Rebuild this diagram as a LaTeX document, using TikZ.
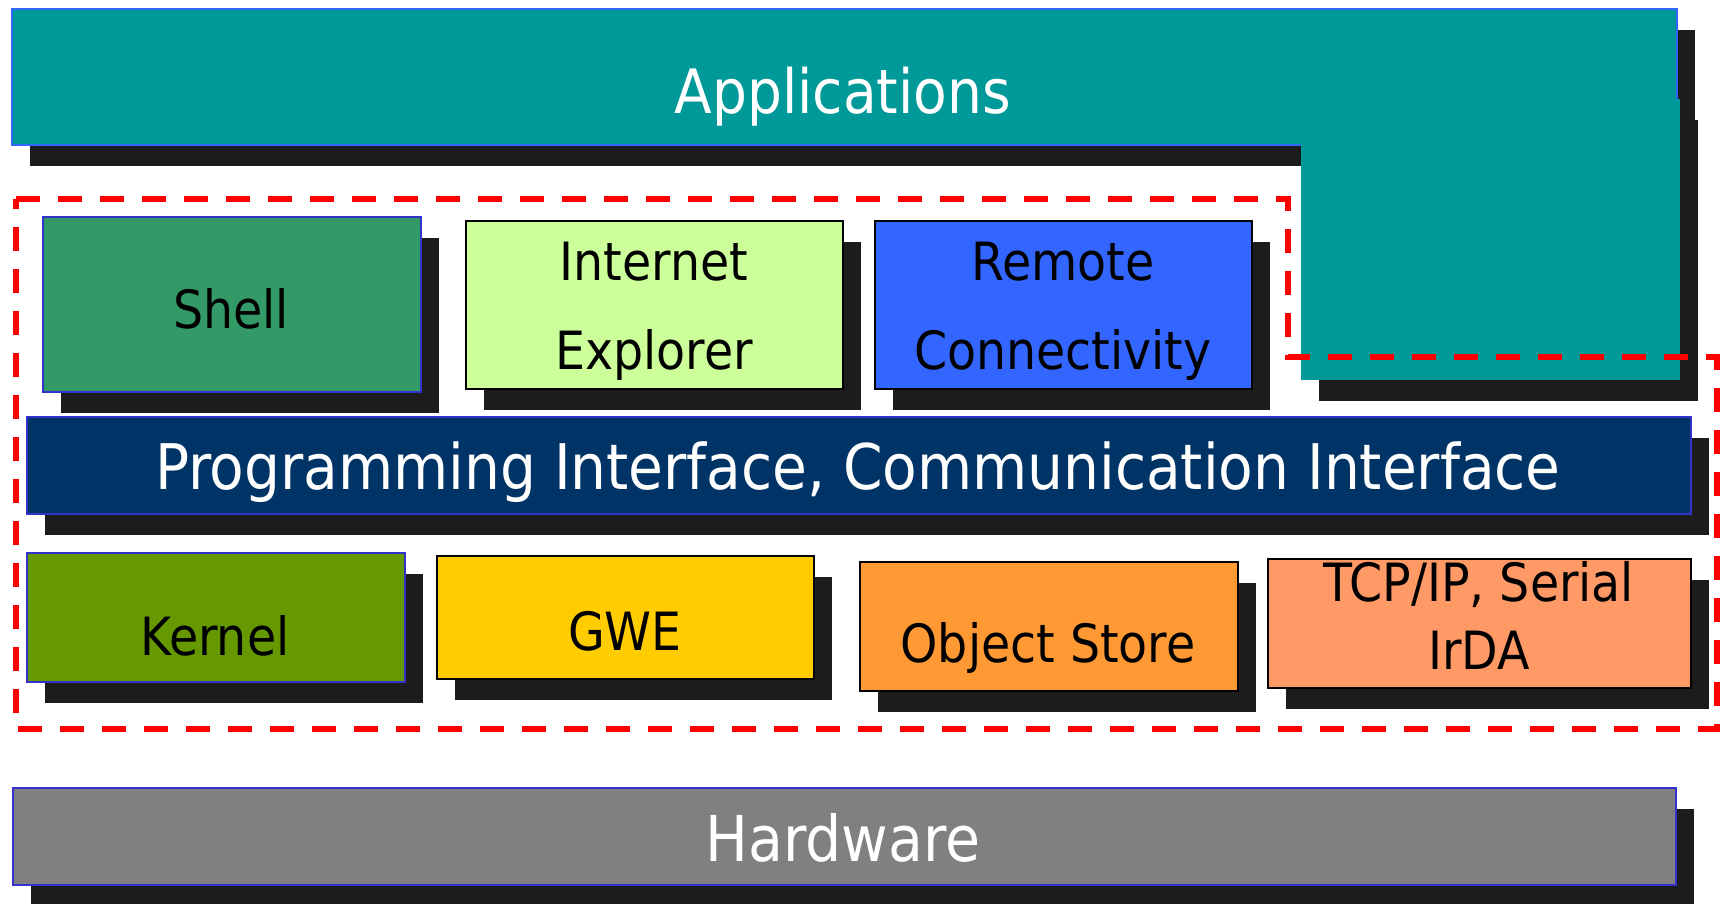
\documentclass[tikz,border=0pt]{standalone}
\usepackage{fontspec}
\setmainfont{DejaVu Sans Condensed}
\usepackage{tikz}
\usetikzlibrary{shadows}

\definecolor{appteal}{HTML}{009999}
\definecolor{appblue}{HTML}{3366FF}
\definecolor{edgeblue}{HTML}{3333CC}
\definecolor{shellgreen}{HTML}{339966}
\definecolor{iegreen}{HTML}{CCFF99}
\definecolor{remoteblue}{HTML}{3366FF}
\definecolor{apinavy}{HTML}{003366}
\definecolor{kernelgreen}{HTML}{669900}
\definecolor{gweyellow}{HTML}{FFCC00}
\definecolor{storeorange}{HTML}{FF9933}
\definecolor{tcpsalmon}{HTML}{FF9966}
\definecolor{hwgray}{HTML}{808080}
\definecolor{shadowgray}{HTML}{1C1C1C}

\begin{document}
\begin{tikzpicture}[
		layer/.style={rectangle, inner sep=0pt, anchor=north west, line width=0.6pt,
			drop shadow={shadow xshift=0.18cm, shadow yshift=-0.21cm, fill=shadowgray, opacity=1}},
		bigtext/.style={font=\fontsize{18}{22}\selectfont, text=white, anchor=base},
		boxtext/.style={font=\fontsize{15}{18}\selectfont, text=black, anchor=base},
		redzone/.style={draw=red, line width=1.75pt, dash pattern=on 0.24cm off 0.18cm}]
	\useasboundingbox (0,0) rectangle (17.22,-9.04);
	% applications (with the block on the right)
	\node[layer, draw=appblue, fill=appteal, minimum width=16.65cm, minimum height=1.36cm] (app) at (0.11,-0.08) {};
	\node[layer, fill=appteal, minimum width=3.79cm, minimum height=2.81cm] (appext) at (13.00,-0.98) {};
	\node[bigtext, font=\fontsize{17.4}{21}\selectfont] (apptxt) at (8.43,-1.14) {Applications};
	% upper row
	\node[layer, draw=edgeblue, fill=shellgreen, minimum width=3.78cm, minimum height=1.75cm] (shell) at (0.42,-2.16) {};
	\node[layer, draw=black, fill=iegreen, minimum width=3.77cm, minimum height=1.68cm] (ie) at (4.65,-2.20) {};
	\node[layer, draw=black, fill=remoteblue, minimum width=3.77cm, minimum height=1.68cm] (remote) at (8.74,-2.20) {};
	\node[boxtext] (shelltxt) at (2.31,-3.29) {Shell};
	\node[boxtext] (ietxt1) at (6.54,-2.81) {Internet};
	\node[boxtext] (ietxt2) at (6.54,-3.70) {Explorer};
	\node[boxtext] (remotetxt1) at (10.63,-2.81) {Remote};
	\node[boxtext] (remotetxt2) at (10.63,-3.70) {Connectivity};
	% interface
	\node[layer, draw=edgeblue, fill=apinavy, minimum width=16.64cm, minimum height=0.97cm] (api) at (0.26,-4.16) {};
	\node[bigtext, font=\fontsize{17.9}{21}\selectfont] (apitxt) at (8.58,-4.90) {Programming Interface, Communication Interface};
	% lower row
	\node[layer, draw=edgeblue, fill=kernelgreen, minimum width=3.78cm, minimum height=1.29cm] (kernel) at (0.26,-5.52) {};
	\node[layer, draw=black, fill=gweyellow, minimum width=3.77cm, minimum height=1.23cm] (gwe) at (4.36,-5.55) {};
	\node[layer, draw=black, fill=storeorange, minimum width=3.78cm, minimum height=1.29cm] (store) at (8.59,-5.61) {};
	\node[layer, draw=black, fill=tcpsalmon, minimum width=4.23cm, minimum height=1.29cm] (tcp) at (12.67,-5.58) {};
	\node[boxtext] (kerneltxt) at (2.15,-6.56) {Kernel};
	\node[boxtext] (gwetxt) at (6.25,-6.51) {GWE};
	\node[boxtext] (storetxt) at (10.48,-6.63) {Object Store};
	\node[boxtext] (tcptxt1) at (14.79,-6.02) {TCP/IP, Serial};
	\node[boxtext] (tcptxt2) at (14.79,-6.70) {IrDA};
	% hardware
	\node[layer, draw=edgeblue, fill=hwgray, minimum width=16.63cm, minimum height=0.97cm] (hw) at (0.12,-7.87) {};
	\node[bigtext] (hwtxt) at (8.43,-8.62) {Hardware};
	% dashed outline
	\draw[redzone] (0.16,-1.99) -- (12.88,-1.99) -- (12.88,-3.57) -- (17.17,-3.57)
		-- (17.17,-7.29) -- (0.16,-7.29) -- cycle;
\end{tikzpicture}
\end{document}
